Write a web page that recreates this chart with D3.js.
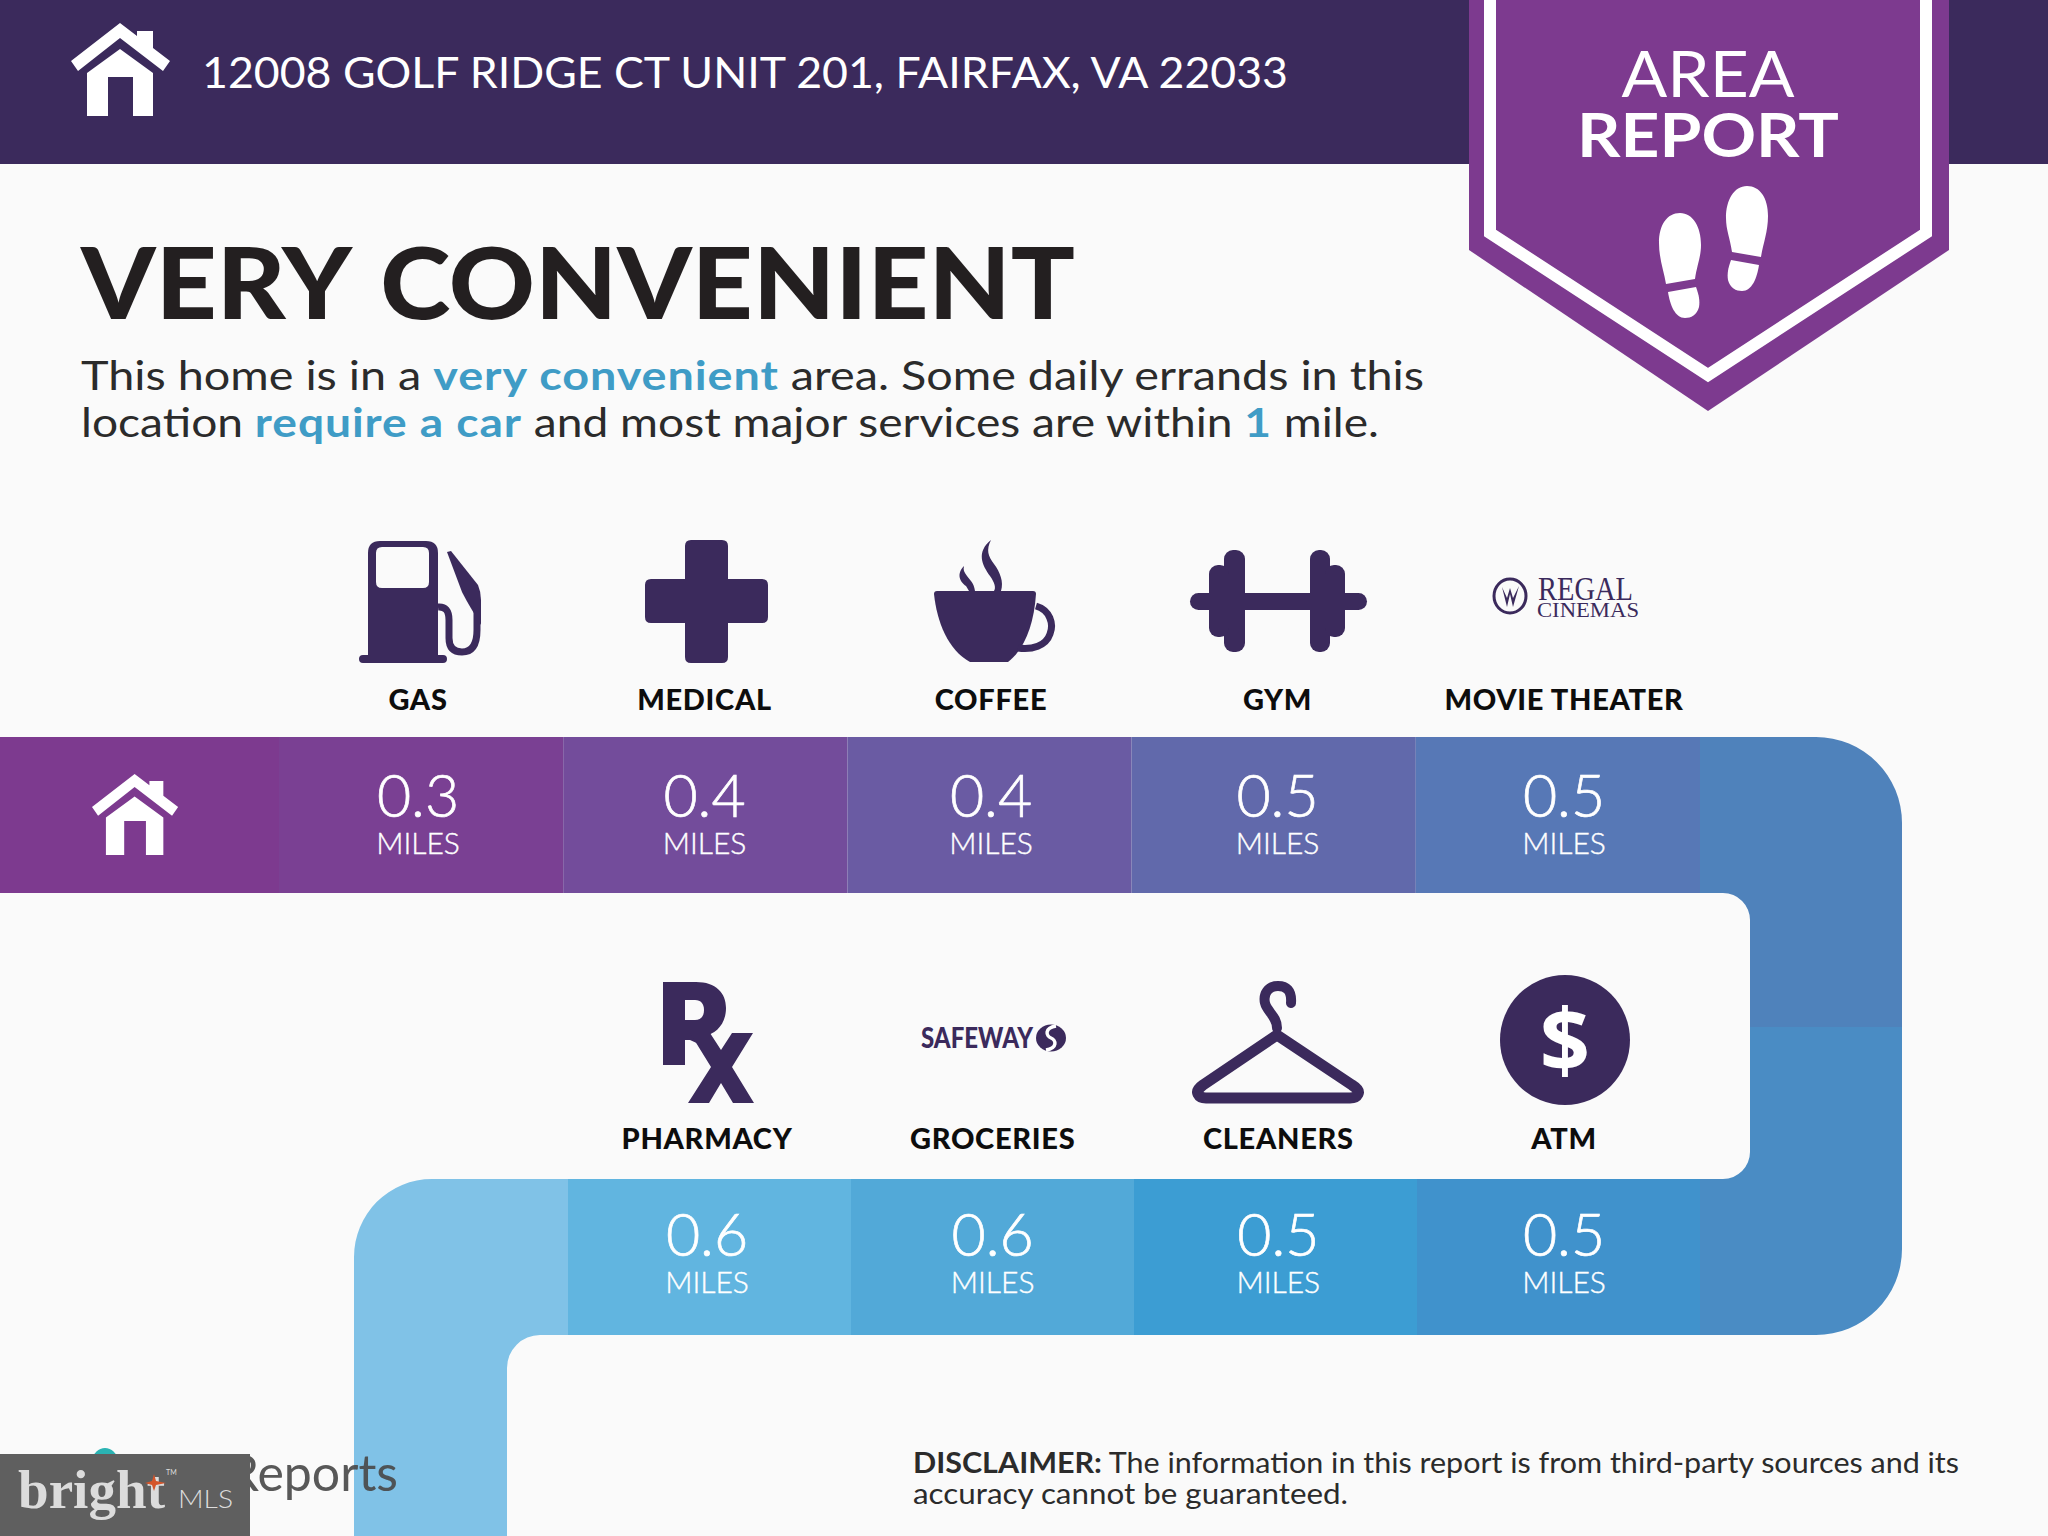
<!DOCTYPE html>
<html>
<head>
<meta charset="utf-8">
<script src="https://cdn.jsdelivr.net/npm/d3@7"></script>
<style>
html, body { margin: 0; padding: 0; background: #fafafa; }
svg { display: block; }
text { font-family: Lato, "Open Sans", sans-serif; }
</style>
</head>
<body>
<script>
const width = 2048, height = 1536;

// report content
const address = "12008 GOLF RIDGE CT UNIT 201, FAIRFAX, VA 22033";
const topCategories = ["GAS", "MEDICAL", "COFFEE", "GYM", "MOVIE THEATER"];
const topMiles = [0.3, 0.4, 0.4, 0.5, 0.5];
const bottomCategories = ["PHARMACY", "GROCERIES", "CLEANERS", "ATM"];
const bottomMiles = [0.6, 0.6, 0.5, 0.5];
const topColours = ["#7a4093", "#734c9b", "#6a5ba3", "#6169ab", "#5778b6"];
const bottomColours = ["#61b5e0", "#52a9d8", "#3c9dd3", "#4092cc"];

const purple = "#3b2a5c", violet = "#7d3a8f", blue = "#3f9cc6", ink = "#231f20";

const svg = d3.select("body").append("svg").attr("width", width).attr("height", height);
svg.append("rect").attr("width", width).attr("height", height).attr("fill", "#fafafa");

const fitted = (sel, w) => sel.attr("textLength", w).attr("lengthAdjust", "spacingAndGlyphs");

// scales: the two rows of the route and the icon columns
const y = d3.scaleBand().domain([0, 1]).range([737, 1335]).paddingInner(1 - 156 / 442);
const xTop = d3.scaleBand().domain(topCategories).range([279, 1700]);
const xBottom = d3.scaleBand().domain(bottomCategories).range([568, 1700]);
const column = d3.scalePoint().domain(topCategories).range([418, 1564]);
const bottomColumn = d3.scalePoint().domain(bottomCategories).range([707, 1564]);
const topFill = d3.scaleOrdinal(topCategories, topColours);
const bottomFill = d3.scaleOrdinal(bottomCategories, bottomColours);

const houseIcon = (g, fill) => {
  g.append("path").attr("fill", fill).attr("fill-rule", "evenodd")
    .attr("d", "M16,50 L49,26 L82,50 L82,93 L62,93 L62,54 L37,54 L37,93 L16,93 Z");
  g.append("path").attr("fill", fill)
    .attr("d", "M49,0 L66,13 L66,8 L82,8 L82,25 L99,38 L92,48 L49,15 L7,48 L0,38 Z");
};

// header band
svg.append("rect").attr("width", width).attr("height", 164).attr("fill", purple);
houseIcon(svg.append("g").attr("transform", "translate(71,23)"), "#fff");
svg.append("text").attr("x", 202).attr("y", 88).attr("font-size", 43).attr("fill", "#fff")
  .call(fitted, 1086).text(address);

// area report badge
svg.append("path").attr("fill", violet).attr("d", "M1469,0 H1949 V250 L1708,411 L1469,250 Z");
svg.append("path").attr("fill", "none").attr("stroke", "#fff").attr("stroke-width", 12)
  .attr("d", "M1490,0 V233 L1708,375 L1926,233 V0");
svg.append("text").attr("x", 1708).attr("y", 97).attr("text-anchor", "middle")
  .attr("font-size", 64).attr("fill", "#fff").call(fitted, 173).text("AREA");
svg.append("text").attr("x", 1708).attr("y", 157).attr("text-anchor", "middle")
  .attr("font-size", 62).attr("font-weight", 700).attr("fill", "#fff").call(fitted, 262).text("REPORT");

const footprint = (g) => {
  g.append("path").attr("fill", "#fff")
    .attr("d", "M21,0 C34,0 42,14 42,32 C42,44 38,52 36,66 L7,71 C5,58 0,46 0,30 C0,12 8,0 21,0 Z");
  g.append("path").attr("fill", "#fff")
    .attr("d", "M9,79 L37,74 C40,82 41,88 40,94 C38,102 32,105 26,105 C16,105 11,92 9,79 Z");
};
footprint(svg.append("g").attr("transform", "translate(1659,213)"));
footprint(svg.append("g").attr("transform", "translate(1726,186) scale(-1,1) translate(-42,0)"));

// headline and summary
svg.append("text").attr("x", 81).attr("y", 319).attr("font-size", 100).attr("font-weight", 900)
  .attr("word-spacing", 7).attr("fill", ink).call(fitted, 994).text("VERY CONVENIENT");

const summary = [
  {y: 390, w: 1343, parts: [["This home is in a ", 0], ["very convenient", 1], [" area. Some daily errands in this", 0]]},
  {y: 437, w: 1298, parts: [["location ", 0], ["require a car", 1], [" and most major services are within ", 0], ["1", 1], [" mile.", 0]]}
];
summary.forEach(line => {
  const t = svg.append("text").attr("x", 81).attr("y", line.y).attr("font-size", 40).attr("fill", "#2b2b2b")
    .call(fitted, line.w);
  line.parts.forEach(([s, hi]) => t.append("tspan").attr("xml:space", "preserve")
    .attr("fill", hi ? blue : "#2b2b2b").attr("font-weight", hi ? 700 : 400)
    .attr("letter-spacing", hi ? 0.8 : 0).text(s));
});

// route: home cell, connectors, then the cells
const yTop = y(0), yTopEnd = y(0) + y.bandwidth(), yBot = y(1), yBotEnd = y(1) + y.bandwidth();
svg.append("rect").attr("x", 0).attr("y", yTop).attr("width", xTop.range()[0]).attr("height", y.bandwidth()).attr("fill", violet);
houseIcon(svg.append("g").attr("transform", `translate(92,774) scale(0.87)`), "#fff");

const right = 1902, inner = 1750, mid = 1027, xEnd = xTop.range()[1];
svg.append("path").attr("fill", "#4f82bb")
  .attr("d", `M${xEnd},${yTop} H${right - 86} A86,86 0 0 1 ${right},${yTop + 86} V${mid} H${inner} V${yTopEnd + 27} A27,27 0 0 0 ${inner - 27},${yTopEnd} H${xEnd} Z`);
svg.append("path").attr("fill", "#4a8cc4")
  .attr("d", `M${inner},${mid} H${right} V${yBotEnd - 86} A86,86 0 0 1 ${right - 86},${yBotEnd} H${xEnd} V${yBot} H${inner - 27} A27,27 0 0 0 ${inner},${yBot - 27} Z`);
const xStart = xBottom.range()[0];
svg.append("path").attr("fill", "#80c2e7")
  .attr("d", `M${xStart},${yBot} H432 A78,78 0 0 0 354,${yBot + 78} V${height} H507 V${yBotEnd + 33} A33,33 0 0 1 540,${yBotEnd} H${xStart} Z`);

const row = (cats, miles, band, fill, col, rowIndex, shift) => {
  const data = cats.map((name, i) => ({name, miles: miles[i]}));
  const g = svg.append("g");
  const top = y(rowIndex) + shift;
  g.selectAll("rect").data(data).join("rect")
    .attr("x", d => band(d.name)).attr("y", y(rowIndex))
    .attr("width", band.bandwidth()).attr("height", y.bandwidth())
    .attr("fill", d => fill(d.name));
  g.selectAll("text.value").data(data).join("text").attr("class", "value")
    .attr("x", d => col(d.name)).attr("y", top + 80)
    .attr("text-anchor", "middle").attr("font-size", 59).attr("font-weight", 300)
    .attr("fill", "#fff").attr("stroke", "#fff").attr("stroke-width", 0.7)
    .text(d => d3.format(".1f")(d.miles));
  g.selectAll("text.unit").data(data).join("text").attr("class", "unit")
    .attr("x", d => col(d.name)).attr("y", top + 117)
    .attr("text-anchor", "middle").attr("font-size", 30).attr("font-weight", 300)
    .attr("fill", "#fff").attr("stroke", "#fff").attr("stroke-width", 0.4)
    .text("MILES");
  g.selectAll("text.cat").data(data).join("text").attr("class", "cat")
    .attr("x", d => col(d.name)).attr("y", top - 27)
    .attr("text-anchor", "middle").attr("font-size", 29).attr("font-weight", 900).attr("fill", "#0d0d0d")
    .attr("letter-spacing", 0.7)
    .text(d => d.name);
};
row(topCategories, topMiles, xTop, topFill, column, 0, 0);
row(bottomCategories, bottomMiles, xBottom, bottomFill, bottomColumn, 1, -3);

// icons above the cells
const icons = svg.append("g").attr("fill", purple);
// gas pump
icons.append("path").attr("fill-rule", "evenodd")
  .attr("d", "M380,541 H426 Q438,541 438,553 V655 H443 Q447,655 447,659 Q447,663 443,663 H363 Q359,663 359,659 Q359,655 363,655 H368 V553 Q368,541 380,541 Z M382,547 Q376,547 376,553 V582 Q376,588 382,588 H423 Q429,588 429,582 V553 Q429,547 423,547 Z");
icons.append("path").attr("d", "M447,552 L451,551 L478,585 Q481,592 481,600 V625 L472,610 Q466,600 462,592 Z");
icons.append("path").attr("fill", "none").attr("stroke", purple).attr("stroke-width", 7)
  .attr("d", "M438,607 Q449,606 449,620 V638 Q449,652 462,652 Q477,652 477,630 V600");
// medical cross
icons.append("path")
  .attr("d", "M691,540 H722 Q728,540 728,546 V579 H762 Q768,579 768,585 V617 Q768,623 762,623 H728 V657 Q728,663 722,663 H691 Q685,663 685,657 V623 H651 Q645,623 645,617 V585 Q645,579 651,579 H685 V546 Q685,540 691,540 Z");
// coffee cup
icons.append("path")
  .attr("d", "M937,591 H1033 Q1036,591 1036,594 C1034,625 1024,650 1008,662 H970 C948,650 937,622 934,594 Q934,591 937,591 Z");
icons.append("path").attr("fill", "none").attr("stroke", purple).attr("stroke-width", 7)
  .attr("d", "M1036,606 C1050,610 1054,624 1050,634 C1046,646 1032,650 1018,648");
icons.append("path").attr("d", "M991,540 C976,552 982,565 990,576 C995,583 996,588 994,591 H1001 C1004,582 1000,572 994,564 C988,556 986,550 991,540 Z");
icons.append("path").attr("d", "M964,566 C956,574 960,582 966,586 L969,591 H975 C974,583 970,580 967,576 C964,572 963,570 964,566 Z");
// dumbbell
icons.append("rect").attr("x", 1190).attr("y", 593).attr("width", 177).attr("height", 17).attr("rx", 8.5);
[[1224, 21, 550, 102], [1209, 20, 565, 72], [1310, 20, 550, 102], [1325, 20, 565, 72]].forEach(([x, w, t, h]) =>
  icons.append("rect").attr("x", x).attr("y", t).attr("width", w).attr("height", h).attr("rx", 9));
// regal logo
icons.append("ellipse").attr("cx", 1510).attr("cy", 596).attr("rx", 16).attr("ry", 17)
  .attr("fill", "none").attr("stroke", purple).attr("stroke-width", 3);
icons.append("path").attr("d", "M1502,587 L1507,607 L1510,594 L1513,607 L1519,586 L1513,598 L1510,588 L1507,598 Z");
icons.append("text").attr("x", 1538).attr("y", 600).attr("font-size", 34)
  .style("font-family", "'Liberation Serif'").call(fitted, 95).text("REGAL");
icons.append("text").attr("x", 1537).attr("y", 617).attr("font-size", 20)
  .style("font-family", "'Liberation Serif'").call(fitted, 102).text("CINEMAS");
// rx
icons.append("path").attr("fill-rule", "evenodd")
  .attr("d", "M663,982 H696 C716,982 726,993 726,1008 C726,1024 716,1034 704,1036 L712,1050 L690,1040 H685 V1065 H663 Z M685,1000 V1020 H695 C701,1020 704,1016 704,1010 C704,1004 701,1000 695,1000 Z");
icons.append("path")
  .attr("d", "M690,1033 H710 L721,1050 L732,1033 L753,1033 L732,1067 L754,1103 H733 L721,1083 L709,1103 H688 L711,1067 Z");
// safeway logo
icons.append("text").attr("x", 921).attr("y", 1048).attr("font-size", 29).attr("font-weight", 900)
  .call(fitted, 112).text("SAFEWAY");
icons.append("ellipse").attr("cx", 1051).attr("cy", 1038).attr("rx", 15).attr("ry", 13.5);
icons.append("path").attr("fill", "none").attr("stroke", "#fff").attr("stroke-width", 3.5)
  .attr("d", "M1056,1026 C1044,1028 1046,1036 1051,1038 C1056,1040 1058,1048 1046,1050");
// hanger
icons.append("path").attr("fill", "none").attr("stroke", purple).attr("stroke-width", 10).attr("stroke-linecap", "round")
  .attr("d", "M1291,1003 C1292,990 1286,986 1278,986 C1268,986 1263,994 1265,1003 C1267,1012 1277,1016 1277,1028");
icons.append("path").attr("fill", "none").attr("stroke", purple).attr("stroke-width", 11).attr("stroke-linejoin", "round")
  .attr("d", "M1277,1035 L1352,1085 Q1360,1090 1358,1094 Q1356,1098 1350,1098 H1206 Q1200,1098 1198,1094 Q1196,1090 1203,1085 Z");
// atm
icons.append("circle").attr("cx", 1565).attr("cy", 1040).attr("r", 65);
icons.append("text").attr("x", 1565).attr("y", 1072).attr("text-anchor", "middle").attr("font-size", 88)
  .style("font-family", "'Open Sans'").attr("font-weight", 700).attr("fill", "#fff").text("$");

// footer
svg.append("text").attr("x", 913).attr("y", 1473).attr("font-size", 29).attr("fill", "#2b2b2b").call(fitted, 1046)
  .call(t => {
    t.append("tspan").attr("font-weight", 700).text("DISCLAIMER:");
    t.append("tspan").text(" The information in this report is from third-party sources and its");
  });
svg.append("text").attr("x", 913).attr("y", 1504).attr("font-size", 29).attr("fill", "#2b2b2b").call(fitted, 435)
  .text("accuracy cannot be guaranteed.");

svg.append("circle").attr("cx", 105).attr("cy", 1460).attr("r", 12).attr("fill", "#2bb3b3");
svg.append("text").attr("x", 398).attr("y", 1491).attr("text-anchor", "end").attr("font-size", 50)
  .attr("fill", "#4a4a4a").attr("fill-opacity", 0.92).text("Reports");

svg.append("rect").attr("x", 0).attr("y", 1454).attr("width", 250).attr("height", 82).attr("fill", "#5f5f5f");
svg.append("text").attr("x", 18).attr("y", 1508).attr("font-size", 54).attr("font-weight", 700).attr("fill", "#dcdcdc")
  .style("font-family", "'Liberation Serif'").call(fitted, 147).text("bright");
svg.append("path").attr("fill", "#d4552a")
  .attr("d", "M154,1474 L156,1481 L166,1483 L156,1485 L154,1491 L152,1485 L145,1483 L152,1481 Z");
svg.append("text").attr("x", 166).attr("y", 1475).attr("font-size", 7).attr("fill", "#dcdcdc").text("TM");
svg.append("text").attr("x", 178).attr("y", 1508).attr("font-size", 26).attr("font-weight", 300).attr("fill", "#dcdcdc").call(fitted, 55).text("MLS");
</script>
</body>
</html>
